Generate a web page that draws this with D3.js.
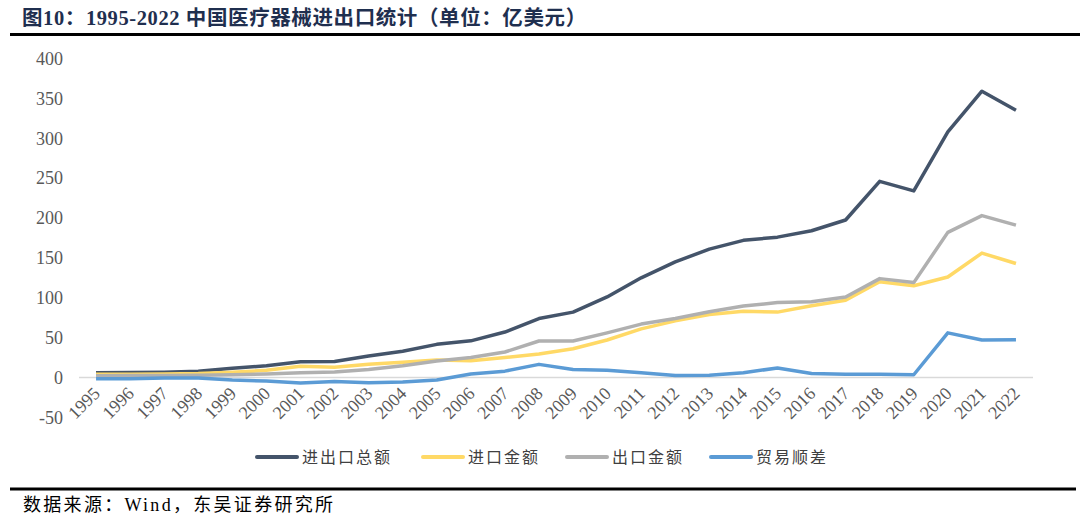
<!DOCTYPE html>
<html>
<head>
<meta charset="utf-8">
<script src="https://cdn.jsdelivr.net/npm/d3@7"></script>
<style>
  body { margin: 0; background: #fff; }
  svg { display: block; }
</style>
</head>
<body>
<svg id="chart"></svg>
<script>
// data (亿美元)
const years = d3.range(1995, 2023).map(String);
const totalVals   = [6, 6.3, 6.7, 7.9, 11.5, 14.8, 19.9, 20, 27, 33, 41.6, 46, 57, 74, 82, 101, 125, 145, 161, 172, 176, 184, 197.5, 246, 234, 308, 359, 335];
const importVals  = [4, 4, 4.5, 5, 6.7, 9, 14, 12.8, 16.5, 19, 22, 21, 25, 29.5, 36, 47, 61, 71, 79, 83, 82, 90, 97, 120, 115, 126, 156, 143];
const exportVals  = [2.3, 2.5, 2.5, 3, 3.5, 4.5, 6, 7, 10, 14.8, 20.7, 25, 32, 45.8, 45.8, 56, 67, 74, 82.5, 89.6, 94, 95, 101, 124, 119, 182, 203, 191];
const balanceVals = [-1.5, -1.5, -0.5, -0.5, -3, -4.5, -7, -5, -6.5, -5.5, -3, 4.5, 8, 16.5, 10, 9, 6, 2.5, 3, 6, 12, 5, 4, 4, 3.5, 56, 47, 47.5];
const yTicks = [-50, 0, 50, 100, 150, 200, 250, 300, 350, 400];

const series = [
  {name: "进出口总额", values: totalVals,   color: "#44546a"},
  {name: "进口金额",   values: importVals,  color: "#ffd966"},
  {name: "出口金额",   values: exportVals,  color: "#b0b0b0"},
  {name: "贸易顺差",   values: balanceVals, color: "#5b9bd5"}
];

const [w, h] = [1080, 525];
const svg = d3.select("#chart").attr("width", w).attr("height", h);
const serif = "'Liberation Serif', 'Times New Roman', serif";
const cjk = "'Noto Sans CJK SC', sans-serif";

// title + rules
svg.append("text").attr("x", 22).attr("y", 25)
  .attr("font-family", serif + ", 'Noto Sans CJK SC'").attr("font-size", 20.5).attr("font-weight", "bold")
  .attr("letter-spacing", 0.6).attr("fill", "#1f2f4f")
  .text("图10：1995-2022 中国医疗器械进出口统计（单位：亿美元）");
svg.append("line").attr("x1", 10).attr("x2", 1080).attr("y1", 34.5).attr("y2", 34.5)
  .attr("stroke", "#000").attr("stroke-width", 3);
svg.append("line").attr("x1", 10).attr("x2", 1076).attr("y1", 489).attr("y2", 489)
  .attr("stroke", "#000").attr("stroke-width", 3);
svg.append("text").attr("x", 23).attr("y", 511)
  .attr("font-family", serif + ", 'Noto Sans CJK SC'").attr("font-size", 18).attr("letter-spacing", 2.3).attr("fill", "#000")
  .text("数据来源：Wind，东吴证券研究所");

// scales
const xScale = d3.scaleBand().domain(years).range([79, 1033]);
const yScale = d3.scaleLinear().domain([-50, 400]).range([417.4, 58.5]);
const xPos = d => xScale(d) + xScale.bandwidth() / 2;

// y axis labels only
const yAxis = d3.axisLeft(yScale).tickValues(yTicks).tickFormat(d => String(d)).tickSize(0).tickPadding(0);
const gy = svg.append("g").attr("transform", "translate(63,0)").call(yAxis);
gy.select(".domain").remove();
gy.selectAll("text").attr("font-family", serif).attr("font-size", 18).attr("fill", "#595959");

// zero line
svg.append("line").attr("x1", 79).attr("x2", 1033)
  .attr("y1", yScale(0)).attr("y2", yScale(0))
  .attr("stroke", "#d9d9d9").attr("stroke-width", 1.5);

// x axis labels, rotated
const xAxis = d3.axisBottom(xScale).tickSize(0).tickPadding(0);
const gx = svg.append("g").attr("transform", `translate(0, ${yScale(0)})`).call(xAxis);
gx.select(".domain").remove();
gx.selectAll("text")
  .attr("font-family", serif).attr("font-size", 18).attr("fill", "#595959")
  .attr("text-anchor", "end").attr("dy", 0)
  .attr("transform", "translate(5,17) rotate(-45)");

// lines
const line = d3.line().x((d, i) => xPos(years[i])).y(d => yScale(d));
series.forEach(s => {
  svg.append("path").datum(s.values)
    .attr("fill", "none").attr("stroke", s.color).attr("stroke-width", 3.5)
    .attr("stroke-linejoin", "round").attr("d", line);
});

// legend
const legendX = [257, 423, 567, 711];
const legend = svg.append("g").selectAll("g").data(series).enter().append("g")
  .attr("transform", (d, i) => `translate(${legendX[i]}, 457)`);
legend.append("line").attr("x1", 0).attr("x2", 40).attr("y1", 0).attr("y2", 0)
  .attr("stroke", d => d.color).attr("stroke-width", 4).attr("stroke-linecap", "round");
legend.append("text").attr("x", 45).attr("y", 6)
  .attr("font-family", cjk).attr("font-size", 16).attr("letter-spacing", 2).attr("fill", "#404040")
  .text(d => d.name);
</script>
</body>
</html>
